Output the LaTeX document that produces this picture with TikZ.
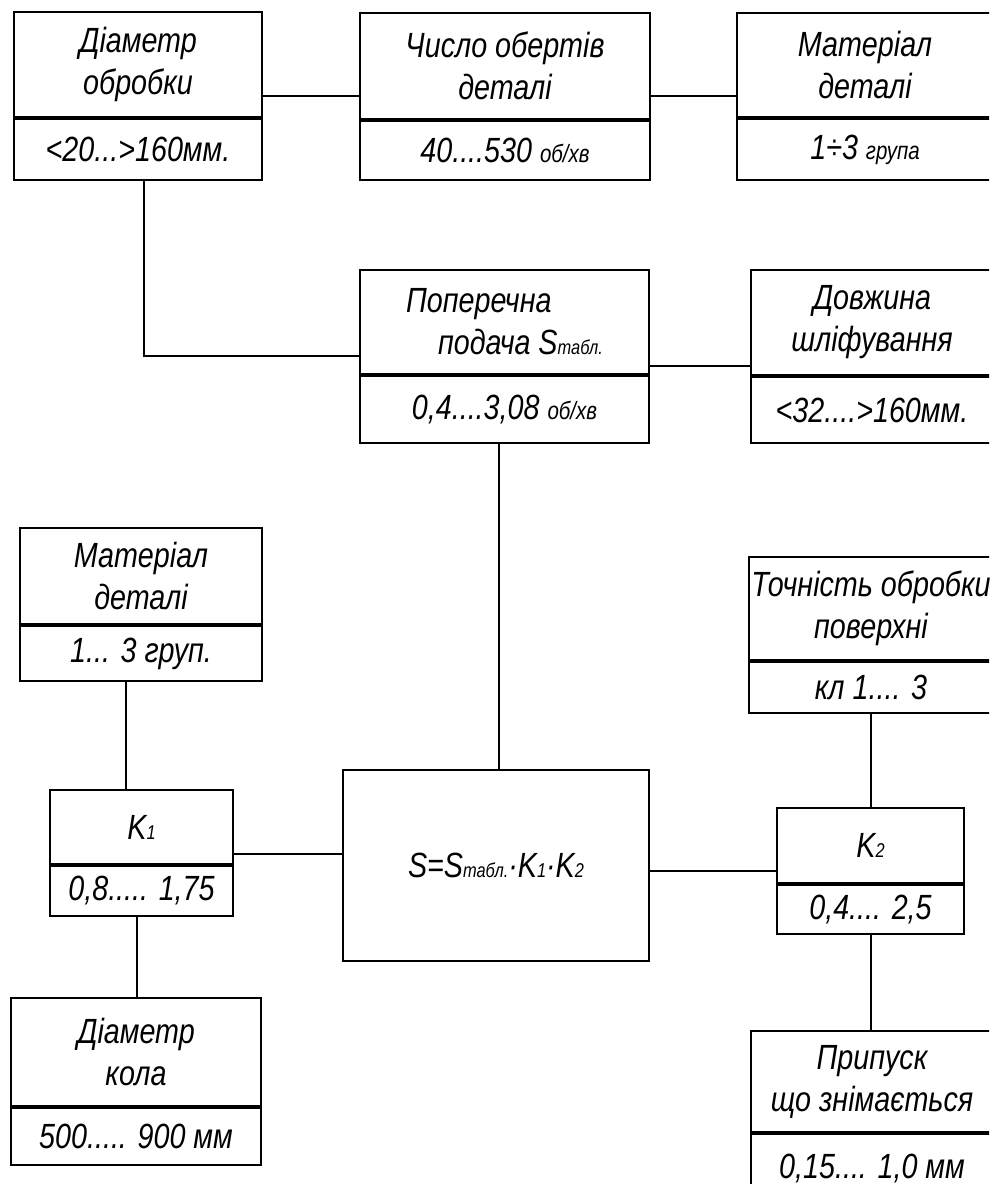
\documentclass[tikz,border=0pt]{standalone}
\usepackage{fontspec}
\newfontfamily\gostfont{Liberation Sans}[FakeStretch=0.82]
\newcommand\smtxt[1]{{\fontsize{20}{22}\selectfont #1}}
\newcommand\unittxt[1]{{\fontsize{25}{27}\selectfont #1}}
\tikzset{
  part/.style={draw, line width=2pt, anchor=north west, inner sep=0pt, align=center,
    font=\gostfont\itshape\fontsize{35}{42}\selectfont},
  link/.style={line width=2pt}
}
\begin{document}
\begin{tikzpicture}[x=1pt, y=-1pt]
  \useasboundingbox (0,0) rectangle (989,1184);
  \clip (0,0) rectangle (989,1184);

  % Top row: diameter, revolutions, material
  \node[part, minimum width=248, minimum height=105] (diam) at (13,11) {Діаметр\\обробки};
  \node[part, minimum width=248, minimum height=61] (diamv) at (diam.south west) {<20...>160мм.};
  \node[part, minimum width=290, minimum height=106] (obor) at (359,12) {Число обертів\\деталі};
  \node[part, minimum width=290, minimum height=59] (oborv) at (obor.south west) {40....530 \unittxt{об/хв}};
  \node[part, minimum width=256, minimum height=104] (mat) at (736,12) {Матеріал\\деталі};
  \node[part, minimum width=256, minimum height=61] (matv) at (mat.south west) {1÷3 \unittxt{група}};

  % Middle row: feed and grinding length
  \node[part, align=left, minimum width=289, minimum height=104] (pod) at (359,269)
    {Поперечна\\\hspace*{32pt}подача S\smtxt{табл.}};
  \node[part, minimum width=289, minimum height=67] (podv) at (pod.south west) {0,4....3,08 \unittxt{об/хв}};
  \node[part, minimum width=242, minimum height=105] (dovzh) at (750,269) {Довжина\\шліфування};
  \node[part, minimum width=242, minimum height=66] (dovzhv) at (dovzh.south west) {<32....>160мм.};

  % Left column: material, K1, wheel diameter
  \node[part, minimum width=242, minimum height=96] (mat2) at (19,527) {Матеріал\\деталі};
  \node[part, minimum width=242, minimum height=55] (mat2v) at (mat2.south west) {1... 3 груп.};
  \node[part, minimum width=183, minimum height=74] (k1) at (49,789) {K\smtxt{1}};
  \node[part, minimum width=183, minimum height=50] (k1v) at (k1.south west) {0,8..... 1,75};
  \node[part, minimum width=250, minimum height=108] (kolo) at (10,997) {Діаметр\\кола};
  \node[part, minimum width=250, minimum height=57] (kolov) at (kolo.south west) {500..... 900 мм};

  % Centre: formula
  \node[part, minimum width=306, minimum height=191] (formula) at (342,769)
    {S=S\smtxt{табл.}·K\smtxt{1}·K\smtxt{2}};

  % Right column: accuracy, K2, allowance
  \node[part, minimum width=244, minimum height=103] (tochn) at (748,556) {Точність обробки\\поверхні};
  \node[part, minimum width=244, minimum height=51] (tochnv) at (tochn.south west) {кл 1.... 3};
  \node[part, minimum width=187, minimum height=75] (k2) at (776,807) {K\smtxt{2}};
  \node[part, minimum width=187, minimum height=49] (k2v) at (k2.south west) {0,4.... 2,5};
  \node[part, minimum width=242, minimum height=101] (prip) at (750,1030) {Припуск\\що знімається};
  \node[part, minimum width=242, minimum height=69] (pripv) at (prip.south west) {0,15.... 1,0 мм};

  % Connectors
  \draw[link] ([yshift=22pt]diam.south east) -- ([yshift=22pt]diam.south east -| obor.west);
  \draw[link] ([yshift=24pt]obor.south east) -- ([yshift=24pt]obor.south east -| mat.west);
  \draw[link] ([xshift=6pt]diamv.south) |- ([yshift=19pt]pod.south west);
  \draw[link] ([yshift=9pt]pod.south east) -- ([yshift=9pt]pod.south east -| dovzh.west);
  \draw[link] ([xshift=-6pt]podv.south) -- ([xshift=-6pt]podv.south |- formula.north);
  \draw[link] ([xshift=-15pt]mat2v.south) -- ([xshift=-15pt]mat2v.south |- k1.north);
  \draw[link] ([yshift=11pt]k1.south east) -- ([yshift=11pt]k1.south east -| formula.west);
  \draw[link] ([xshift=-5pt]k1v.south) -- ([xshift=-5pt]k1v.south |- kolo.north);
  \draw[link] (k2.north) -- (k2.north |- tochnv.south);
  \draw[link] ([yshift=13pt]k2.south west) -- ([yshift=13pt]k2.south west -| formula.east);
  \draw[link] (k2v.south) -- (k2v.south |- prip.north);
\end{tikzpicture}
\end{document}
